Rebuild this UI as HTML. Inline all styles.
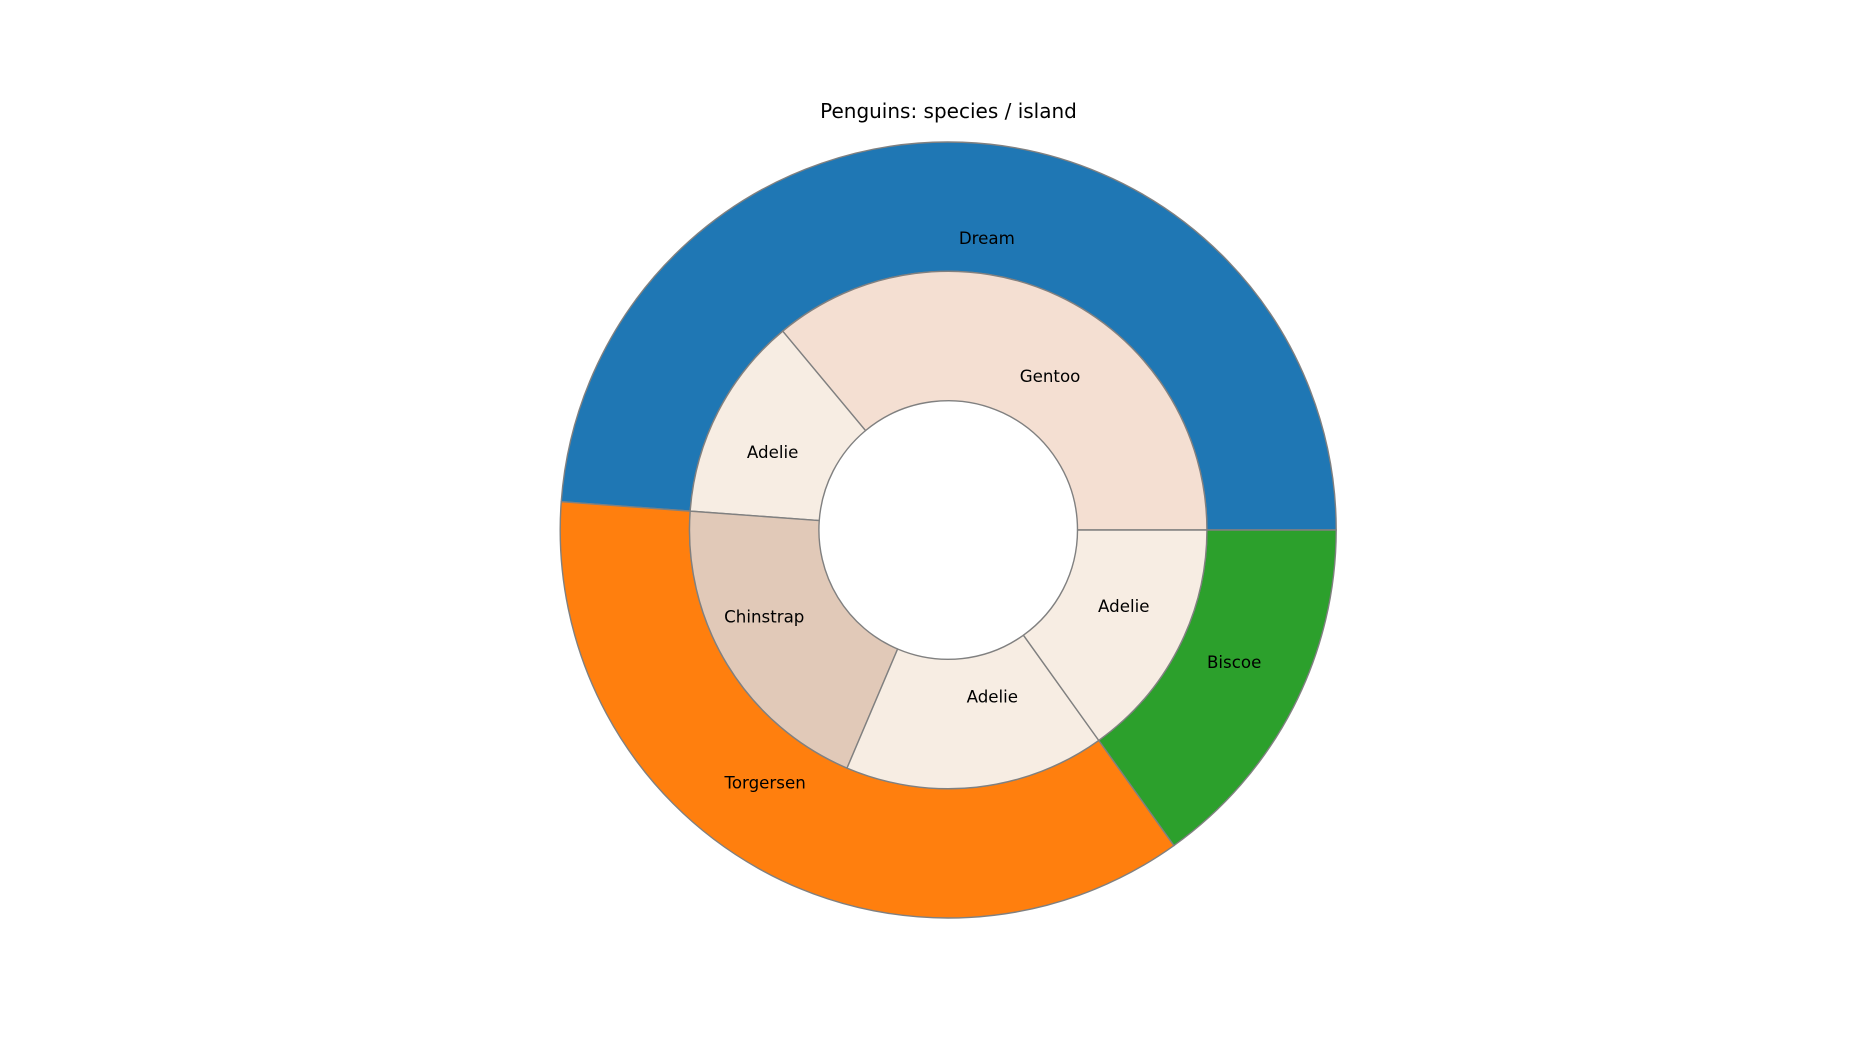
<!DOCTYPE html>
<html>
<head>
<meta charset="utf-8">
<title>Penguins: species / island</title>
<style>
html,body{margin:0;padding:0;width:1850px;height:1050px;background:#fff;overflow:hidden}
svg{display:block}
text{font-family:"DejaVu Sans","Liberation Sans",sans-serif;fill:#000}
</style>
</head>
<body>
<svg id="chart" width="1850" height="1050" viewBox="0 0 1850 1050" xmlns="http://www.w3.org/2000/svg">
  <text x="948.5" y="118" text-anchor="middle" font-size="20">Penguins: species / island</text>
</svg>
<script>
const outerLabels = ['Dream', 'Torgersen', 'Biscoe'];
const outerValues = [168, 124, 52];
const outerColors = ['#1f77b4', '#ff7f0e', '#2ca02c'];
const innerLabels = ['Gentoo', 'Adelie', 'Chinstrap', 'Adelie', 'Adelie'];
const innerValues = [124, 44, 68, 56, 52];
const innerColors = ['#f4dfd2', '#f7ede3', '#e1c9b8', '#f7ede3', '#f7ede3'];

const svg = document.getElementById('chart');
const NS = 'http://www.w3.org/2000/svg';
const cx = 948.2, cy = 530;
const rOuter = 388, rMid = 258.7, rHole = 129.3;
const outerLabelR = 291, innerLabelR = 168.5;
const labelSize = 16.67;

function angleScale(values) {
  const total = values.reduce((a, b) => a + b, 0);
  return v => v / total * Math.PI * 2;
}
function px(r, a) { return cx + r * Math.cos(a); }
function py(r, a) { return cy - r * Math.sin(a); }
function wedgePath(r0, r1, a0, a1) {
  const large = (a1 - a0) > Math.PI ? 1 : 0;
  return 'M' + px(r0, a0) + ' ' + py(r0, a0) +
    'L' + px(r1, a0) + ' ' + py(r1, a0) +
    'A' + r1 + ' ' + r1 + ' 0 ' + large + ' 0 ' + px(r1, a1) + ' ' + py(r1, a1) +
    'L' + px(r0, a1) + ' ' + py(r0, a1) +
    'A' + r0 + ' ' + r0 + ' 0 ' + large + ' 1 ' + px(r0, a0) + ' ' + py(r0, a0) + 'Z';
}
function drawRing(values, labels, colors, r0, r1, labelR, ringName) {
  const scale = angleScale(values);
  let start = 0;
  const texts = [];
  values.forEach((v, i) => {
    const end = start + scale(v);
    const path = document.createElementNS(NS, 'path');
    path.setAttribute('d', wedgePath(r0, r1, start, end));
    path.setAttribute('fill', colors[i]);
    path.setAttribute('stroke', '#808080');
    path.setAttribute('stroke-width', '1.4');
    path.setAttribute('stroke-linejoin', 'round');
    
    
    svg.appendChild(path);
    const mid = (start + end) / 2;
    const lx = px(labelR, mid);
    const ly = py(labelR, mid);
    texts.push({ x: lx, y: ly, label: labels[i], i: i });
    start = end;
  });
  return texts;
}
function drawLabels(items, ringName) {
  items.forEach(t => {
    const text = document.createElementNS(NS, 'text');
    text.setAttribute('x', t.x);
    text.setAttribute('y', t.y + 4.8);
    text.setAttribute('font-size', labelSize);
    text.setAttribute('text-anchor', t.x >= cx ? 'start' : 'end');
    text.textContent = t.label;
    
    
    svg.appendChild(text);
  });
}
const outerTexts = drawRing(outerValues, outerLabels, outerColors, rMid, rOuter, outerLabelR, 'island');
drawLabels(outerTexts, 'island');
const innerTexts = drawRing(innerValues, innerLabels, innerColors, rHole, rMid, innerLabelR, 'species');
drawLabels(innerTexts, 'species');
</script>
</body>
</html>
